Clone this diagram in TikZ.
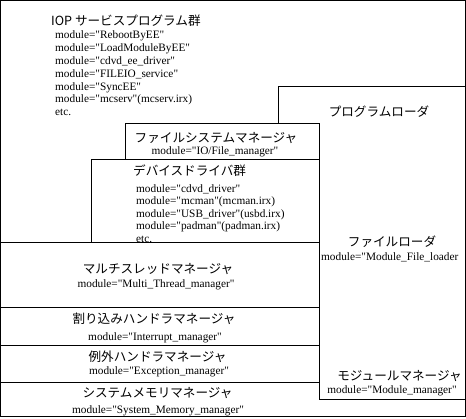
\documentclass[tikz,border=0pt]{standalone}
\usepackage{fontspec}
\setmainfont{Liberation Serif}[Ligatures=TeXOff]
\newfontfamily\jp{Noto Sans CJK JP}
\begin{document}
\begin{tikzpicture}[x=1pt,y=-1pt,
  rule/.style={line width=1pt},
  lat/.style={font=\fontsize{11.3}{12.9}\selectfont, inner sep=0pt},
  jpt/.style={font=\jp\fontsize{12.6}{14}\selectfont, inner sep=0pt}]
\useasboundingbox (0,0) rectangle (466,419);
% outer frame
\draw[rule] (0.5,0.5) rectangle (465.5,417);
% program loader box
\draw[rule] (278,123.5) -- (278,87) -- (465.5,87);
\draw[rule] (319,123.5) -- (319,400) -- (465.5,400);
% file system box
\draw[rule] (125,160) -- (125,123.5) -- (319,123.5);
% device driver box
\draw[rule] (91,243) -- (91,160) -- (319,160);
% horizontal separators
\draw[rule] (0,243) -- (319,243);
\draw[rule] (0,308) -- (319,308);
\draw[rule] (0,346) -- (319,346);
\draw[rule] (0,383) -- (319,383);

% IOP service programs
\node[jpt, anchor=base west] (iop) at (51,25.5) {IOP サービスプログラム群};
\foreach \t [count=\i from 0] in {module="RebootByEE",module="LoadModuleByEE",module="cdvd\_ee\_driver",module="FILEIO\_service",module="SyncEE",module="mcserv"(mcserv.irx),etc.}
  \node[lat, anchor=base west] (iopm\i) at (55,38.5+12.9*\i) {\t};

% program loader
\node[jpt, anchor=base] (pl) at (379,116.5) {プログラムローダ};
\node[jpt, anchor=base] (fl) at (392,246.5) {ファイルローダ};
\node[lat, anchor=base west] (flm) at (321,260.5) {module="Module\_File\_loader};
\node[jpt, anchor=base] (mm) at (399.5,380.5) {モジュールマネージャ};
\node[lat, anchor=base] (mmm) at (392,393.5) {module="Module\_manager"};

% file system manager
\node[jpt, anchor=base] (fs) at (216,142.5) {ファイルシステムマネージャ};
\node[lat, anchor=base] (fsm) at (215,154.5) {module="IO/File\_manager"};

% device drivers
\node[jpt, anchor=base west] (dd) at (133,175.5) {デバイスドライバ群};
\foreach \t [count=\i from 0] in {module="cdvd\_driver",module="mcman"(mcman.irx),module="USB\_driver"(usbd.irx),module="padman"(padman.irx),etc.}
  \node[lat, anchor=base west] (ddm\i) at (136,192.5+12.5*\i) {\t};

% multi thread manager
\node[jpt, anchor=base] (mt) at (158,273.5) {マルチスレッドマネージャ};
\node[lat, anchor=base] (mtm) at (156,287.5) {module="Multi\_Thread\_manager"};
% interrupt
\node[jpt, anchor=base] (im) at (154,323.5) {割り込みハンドラマネージャ};
\node[lat, anchor=base] (imm) at (155,340.5) {module="Interrupt\_manager"};
% exception
\node[jpt, anchor=base] (em) at (157.5,361.5) {例外ハンドラマネージャ};
\node[lat, anchor=base] (emm) at (159,374.5) {module="Exception\_manager"};
% system memory
\node[jpt, anchor=base] (sm) at (157.5,397.5) {システムメモリマネージャ};
\node[lat, anchor=base] (smm) at (158,413.5) {module="System\_Memory\_manager"};
\end{tikzpicture}
\end{document}
